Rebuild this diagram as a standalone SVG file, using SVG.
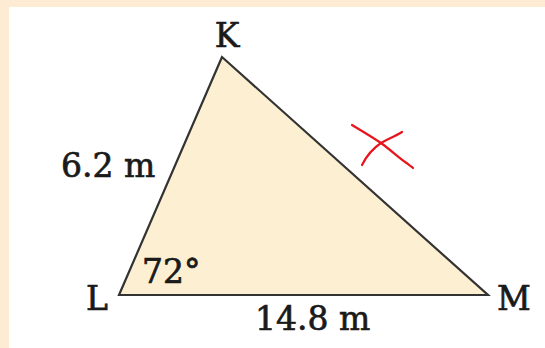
<svg xmlns="http://www.w3.org/2000/svg" width="545" height="348" viewBox="0 0 545 348">
<style>
.lbl{font-family:"DejaVu Serif","Liberation Serif",serif;font-size:33px;fill:#1a1a1a;stroke:#1a1a1a;stroke-width:0.7}
.tri{fill:#fdf0d2;stroke:#333;stroke-width:2.2;stroke-linejoin:miter}
.mark{fill:none;stroke:#e8141c;stroke-width:2.2;stroke-linecap:round}
</style>
<rect x="0" y="0" width="545" height="348" fill="#fdebd3"/>
<rect x="9" y="7" width="536" height="341" fill="#ffffff"/>
<g id="triangle">
<polygon class="tri" points="222,57 119,295 488,295"/>
</g>
<g id="vertex-K"><text class="lbl" x="227" y="47" text-anchor="middle">K</text></g>
<g id="vertex-L"><text class="lbl" x="86" y="310">L</text></g>
<g id="vertex-M"><text class="lbl" x="497" y="310">M</text></g>
<g id="side-KL"><text class="lbl" x="61" y="177">6.2 m</text></g>
<g id="side-LM"><text class="lbl" x="255" y="330">14.8 m</text></g>
<g id="angle-L"><text class="lbl" x="142" y="283">72°</text></g>
<g id="connectors">
<path class="mark" d="M352,125 C362,131 372,137 381,143 C392,151 400,159 408,164 C410,166 412,167 413,168"/>
<path class="mark" d="M402,132 C398,135 391,137 381,143 C372,149 366,157 362,165"/>
</g>
</svg>
